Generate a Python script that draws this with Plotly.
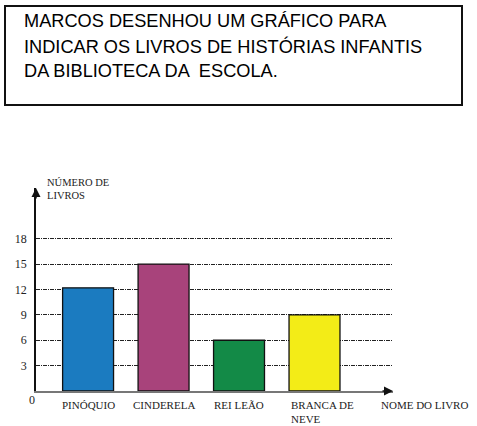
import plotly.graph_objects as go

categories = ["PINÓQUIO", "CINDERELA", "REI LEÃO", "BRANCA DE<br>NEVE"]
values = [12.2, 15, 6, 9]
colors = ["#1b7bc0", "#a8437b", "#138a47", "#f3ec17"]
y_ticks = [3, 6, 9, 12, 15, 18]
title_lines = ["MARCOS DESENHOU UM GRÁFICO PARA",
               "INDICAR OS LIVROS DE HISTÓRIAS INFANTIS",
               "DA BIBLIOTECA DA  ESCOLA."]
y_title_lines = ["NÚMERO DE", "LIVROS"]
x_title = "NOME DO LIVRO"

W, H = 477, 426
L, R, T, B = 36, 84, 188, 35
PW, PH = W - L - R, H - T - B

def px(x):
    return (x - L) / PW

def py(y):
    return (H - B - y) / PH

xpos = list(range(len(categories)))

fig = go.Figure()
fig.add_trace(go.Bar(
    x=xpos, y=values, width=0.675,
    marker=dict(color=colors, line=dict(color="#111", width=1.3)),
    hoverinfo="skip"))

serif = "Liberation Serif"
txt = "#222"
fig.update_layout(
    width=W, height=H, margin=dict(l=L, r=R, t=T, b=B),
    paper_bgcolor="white", plot_bgcolor="white", showlegend=False,
    xaxis=dict(range=[-0.69, 4.04], showgrid=False, zeroline=False,
               showticklabels=False, showline=True, linecolor="#777",
               linewidth=2, fixedrange=True),
    yaxis=dict(range=[0, 24], tickvals=y_ticks, ticktext=[str(v) for v in y_ticks],
               showgrid=True, gridcolor="#222", gridwidth=1,
               griddash="4px,1px,1px,1px", zeroline=False,
               showline=True, linecolor="#111", linewidth=1.5,
               ticks="", ticklabelstandoff=5,
               tickfont=dict(family=serif, size=12, color=txt), fixedrange=True),
    font=dict(family=serif),
)

# title box
fig.add_shape(type="rect", xref="paper", yref="paper",
              x0=px(5), x1=px(462), y0=py(105), y1=py(6),
              line=dict(color="#111", width=2), fillcolor="rgba(0,0,0,0)")
for i, line in enumerate(title_lines):
    fig.add_annotation(xref="paper", yref="paper",
                       x=px(22), y=py(21 + 25 * i),
                       xanchor="left", yanchor="middle", showarrow=False,
                       text=line,
                       font=dict(family="Liberation Sans", size=18.2, color="#000"))

# category labels
for i, c in enumerate(categories):
    if "<br>" in c:
        fig.add_annotation(x=i - 0.34, y=0, xref="x", yref="y", xanchor="left",
                           yanchor="top", yshift=-6, align="left", showarrow=False,
                           text=c, font=dict(family=serif, size=11, color=txt))
    else:
        fig.add_annotation(x=i, y=0, xref="x", yref="y", xanchor="center",
                           yanchor="top", yshift=-6, showarrow=False,
                           text=c, font=dict(family=serif, size=11, color=txt))

fig.add_annotation(xref="paper", yref="y", x=px(379), y=0,
                   xanchor="left", yanchor="top", yshift=-6, showarrow=False,
                   text=x_title, font=dict(family=serif, size=11, color=txt))

# zero label
fig.add_annotation(xref="paper", yref="y", x=px(32), y=0,
                   xanchor="center", yanchor="top", yshift=0, showarrow=False,
                   text="0", font=dict(family=serif, size=12, color=txt))

# y title
for i, line in enumerate(y_title_lines):
    fig.add_annotation(xref="paper", yref="paper", x=px(45), y=py(183 + 12 * i),
                       xanchor="left", yanchor="middle", showarrow=False,
                       text=line, font=dict(family=serif, size=10.5, color=txt))

# axis arrows
fig.add_annotation(xref="paper", yref="paper", x=0, y=1, ax=0, ay=12,
                   showarrow=True, arrowhead=2, arrowsize=1.2, arrowwidth=1.5,
                   arrowcolor="#111", text="")
fig.add_annotation(xref="paper", yref="paper", x=1, y=0, ax=-12, ay=0,
                   showarrow=True, arrowhead=2, arrowsize=1.2, arrowwidth=1.5,
                   arrowcolor="#111", text="")

fig.write_html("out.html")
